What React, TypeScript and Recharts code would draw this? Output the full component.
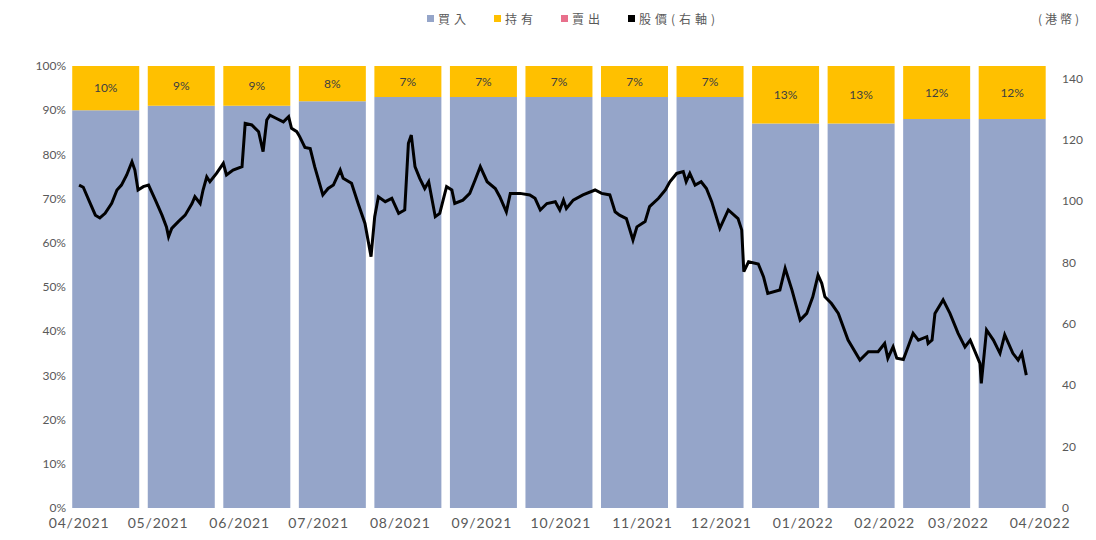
import React from 'react'
import {
  ComposedChart,
  Bar,
  Line,
  XAxis,
  YAxis,
  LabelList,
} from 'recharts'

// one bar per month of rating data
const barMonths = [
  '04/2021', '05/2021', '06/2021', '07/2021', '08/2021', '09/2021', '10/2021',
  '11/2021', '12/2021', '01/2022', '02/2022', '03/2022', '04/2022',
]

// analyst rating mix per month (%)
const buyPct = [90, 91, 91, 92, 93, 93, 93, 93, 93, 87, 87, 88, 88]
const holdPct = [10, 9, 9, 8, 7, 7, 7, 7, 7, 13, 13, 12, 12]
const sellPct = [0, 0, 0, 0, 0, 0, 0, 0, 0, 0, 0, 0, 0]

// date axis: days since 2021-04-01 and the month labels at those days
const dateTicks = [0, 30, 61, 91, 122, 153, 183, 214, 244, 275, 306, 334, 365]
const dateLabels = [
  '04/2021', '05/2021', '06/2021', '07/2021', '08/2021', '09/2021', '10/2021',
  '11/2021', '12/2021', '01/2022', '02/2022', '03/2022', '04/2022',
]

// share price (HKD) by day since 2021-04-01
const priceDay = [
  0, 1.6, 4.2, 6.2, 7.9, 9.9, 12.4, 14.4, 16.1, 18.1, 20.1, 21.2, 22.4, 24.4,
  26.4, 29, 31.5, 33.2, 34, 35.2, 37.7, 40.3, 42.9, 44, 46, 47.1, 48.5, 49.7, 52.2,
  54.8, 56, 58.5, 61.9, 63.1, 65.6, 68.2, 69.9, 71.3, 72.5, 75, 77.6, 79.6, 80.7,
  82.7, 83.8, 85.8, 87.8, 89.5, 92.6, 94.6, 96.6, 99.2, 100.3, 103.5, 106, 108.6, 110.9,
  112.3, 113.7, 116.3, 118.8, 121.4, 123.7, 125.1, 126.2, 127.6, 129.4, 131.3, 132.8, 135.3, 137,
  139.6, 141.6, 142.7, 145.8, 148.4, 150.4, 152.4, 155, 158.1, 159.8, 162.3, 163.8, 167.5,
  171.2, 173.2, 175.2, 177.7, 180.9, 182.6, 184, 185.1, 187.7, 191.4, 196,
  198.5, 201.6, 203.6, 205.3, 207.9, 210.4, 211.9, 215, 216.7, 220.1, 222.7, 224.4,
  227, 229.5, 230.6, 232, 234, 236.3, 238.3, 240.3, 243.4, 246.6, 250.3, 251.7, 252.5,
  254.3, 258, 260, 261.6, 266.2, 268.2, 270.8, 273.9, 276.4, 278.7, 280.7,
  282.1, 283.3, 285.8, 288.4, 292.1, 296.6, 299.8, 303.5, 306, 307.2, 309.2,
  310.6, 313.1, 316.8, 318.8, 322, 322.5, 324, 325.1, 328.2, 330.8, 333.9, 336.5, 338.5,
  342.2, 342.7, 344.7, 347.3, 349.8, 351.6, 354.7, 356.7, 358.1, 359.8,
]
const price = [
  105.2, 104.5, 99.3, 95.4, 94.5, 96, 99.3, 103.6, 105.2, 108.5, 112.8, 110.1, 103.6, 104.7,
  105.2, 100.3, 95.4, 91.6, 88.4, 91.1, 93.3, 95.4, 99.2, 101.4, 99.2, 103.6, 107.9, 106.3, 109,
  112.3, 108.5, 110.1, 111.2, 125.3, 124.8, 122.6, 116.1, 126.4, 128, 126.9, 125.8, 127.5, 123.7,
  122.6, 121, 117.5, 117.1, 111.2, 102, 104.1, 105.2, 110.1, 107.4, 105.8, 99.2, 92.7, 81.9,
  94.9, 101.4, 99.8, 100.9, 96, 97.1, 118.8, 121.5, 111.2, 107.4, 104.1, 106.3, 94.9, 96,
  104.7, 103.6, 99.2, 100.3, 102.5, 106.8, 111.2, 106.3, 104.1, 101.4, 96.5, 102.5, 102.5,
  102, 100.9, 97.1, 99.2, 99.8, 97.1, 100.3, 97.6, 100.3, 102, 103.6,
  102.5, 102, 96.5, 95.4, 94.3, 87.3, 91.6, 93.3, 98.2, 100.9, 103.6, 106.3,
  109, 109.6, 106.3, 109, 105.2, 106.3, 104.1, 99.8, 91.1, 97.1, 94.3, 90.6, 77,
  80.2, 79.5, 75.3, 69.9, 71, 78.1, 71, 61.2, 63.4, 68.8, 75.9,
  73.2, 68.8, 66.6, 63.4, 54.7, 48.2, 50.9, 50.9, 53.6, 48.8, 52.5,
  48.8, 48.4, 56.9, 54.7, 55.8, 53.6, 54.7, 63.4, 67.8, 63.4, 56.9, 52.5, 54.7,
  47.1, 40.6, 58, 54.7, 50.4, 56.4, 50.4, 48.2, 50.4, 43.3,
]

const barData = barMonths.map((m, i) => ({
  month: m,
  buy: buyPct[i],
  hold: holdPct[i],
  sell: sellPct[i],
}))
const priceData = priceDay.map((day, i) => ({ day, price: price[i] }))

const BLUE = '#95A5C9'
const YELLOW = '#FFC000'
const PINK = '#E8708C'
const AXIS_TEXT = '#595959'
const font = 'Lato, "Noto Sans", sans-serif'
const cjk = '"Noto Sans CJK TC", "Noto Sans CJK SC", sans-serif'

const legendItems = [
  { name: '買入', color: BLUE },
  { name: '持有', color: YELLOW },
  { name: '賣出', color: PINK },
  { name: '股價(右軸)', color: '#000' },
]

export default function App() {
  return (
    <div style={{ position: 'absolute', left: 0, top: 0, width: 1096, height: 540, background: '#fff' }}>
      <div
        style={{
          position: 'absolute', top: 10, left: 427, display: 'flex', gap: 24,
          fontFamily: cjk, fontSize: 12, color: AXIS_TEXT, letterSpacing: 4,
        }}
      >
        {legendItems.map(it => (
          <div key={it.name} style={{ display: 'flex', alignItems: 'center', gap: 4 }}>
            <span style={{ width: 7, height: 7, background: it.color, display: 'inline-block' }} />
            <span>{it.name}</span>
          </div>
        ))}
      </div>
      <div
        style={{
          position: 'absolute', top: 10, left: 1038, fontFamily: cjk, fontSize: 12,
          color: AXIS_TEXT, letterSpacing: 3,
        }}
      >
        (港幣)
      </div>
      <ComposedChart
        width={1096}
        height={540}
        data={barData}
        margin={{ top: 66, right: 0, bottom: 0, left: 0 }}
        barCategoryGap="5.6%"
      >
        <XAxis
          xAxisId="date"
          dataKey="day"
          type="number"
          domain={[-4.2, 368.8]}
          allowDataOverflow
          ticks={dateTicks}
          interval={0}
          tickFormatter={v => dateLabels[dateTicks.indexOf(v)]}
          axisLine={false}
          tickLine={false}
          tickSize={0}
          tickMargin={10}
          height={32}
          tick={{ fontSize: 14, fill: AXIS_TEXT, fontFamily: font, letterSpacing: 0.8 }}
        />
        <XAxis xAxisId="cat" dataKey="month" hide height={0} />
        <YAxis
          yAxisId="left"
          domain={[0, 100]}
          ticks={[0, 10, 20, 30, 40, 50, 60, 70, 80, 90, 100]}
          tickFormatter={v => `${v}%`}
          axisLine={false}
          tickLine={false}
          tickSize={0}
          tickMargin={2}
          width={68}
          tick={{ fontSize: 12, fill: AXIS_TEXT, fontFamily: font }}
        />
        <YAxis
          yAxisId="right"
          orientation="right"
          domain={[0, 144]}
          ticks={[0, 20, 40, 60, 80, 100, 120, 140]}
          allowDataOverflow
          axisLine={false}
          tickLine={false}
          tickSize={0}
          tickMargin={12}
          width={46}
          tick={{ fontSize: 12, fill: AXIS_TEXT, fontFamily: font, textAnchor: 'start' }}
        />
        <Bar xAxisId="cat" yAxisId="left" dataKey="buy" stackId="a" fill={BLUE} isAnimationActive={false} />
        <Bar xAxisId="cat" yAxisId="left" dataKey="hold" stackId="a" fill={YELLOW} isAnimationActive={false}>
          <LabelList
            dataKey="hold"
            position="center"
            formatter={(v: number) => `${v}%`}
            style={{ fontSize: 12, fill: '#404040', fontFamily: font }}
          />
        </Bar>
        <Bar xAxisId="cat" yAxisId="left" dataKey="sell" stackId="a" fill={PINK} isAnimationActive={false} />
        <Line
          xAxisId="date"
          yAxisId="right"
          data={priceData}
          dataKey="price"
          type="linear"
          stroke="#000"
          strokeWidth={3}
          dot={false}
          activeDot={false}
          isAnimationActive={false}
        />
      </ComposedChart>
    </div>
  )
}
